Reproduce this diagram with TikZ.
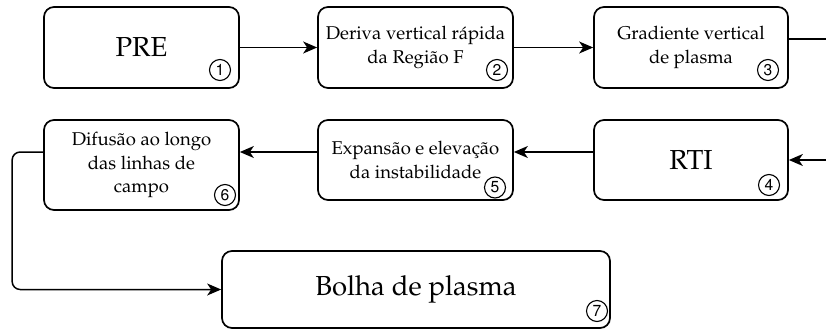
\documentclass[tikz,border=0pt]{standalone}
\usepackage[T1]{fontenc}
\usepackage[scaled=0.92]{helvet}
\usepackage{mathpazo}
\usetikzlibrary{arrows.meta}
\tikzset{
  stepbox/.style={draw, line width=1.7pt, rounded corners=10pt, inner sep=0pt, align=center},
  small/.style={font=\fontsize{18.5}{23.5}\selectfont},
  big/.style={font=\fontsize{27.5}{32}\selectfont},
  num/.style={circle, draw, line width=1.1pt, minimum size=21pt, inner sep=0pt, font=\sffamily\fontsize{17}{17}\selectfont},
  conn/.style={line width=1.5pt},
  arr/.style={conn, -{Stealth[length=14pt,width=12pt,inset=4pt]}}
}
\begin{document}
\begin{tikzpicture}[x=1pt,y=-1pt]
\useasboundingbox (0,0) rectangle (826,329);
% row 1
\node[stepbox, big, minimum width=195pt, minimum height=81pt] (b1) at (141.5,47.5) {PRE};
\node[stepbox, small, minimum width=195pt, minimum height=81pt] (b2) at (415.5,47.5) {Deriva vertical r\'apida\\da Regi\~ao F};
\node[stepbox, small, minimum width=194pt, minimum height=81pt] (b3) at (691,47.5) {Gradiente vertical\\de plasma};
% row 2
\node[stepbox, big, minimum width=194pt, minimum height=80pt] (b4) at (691,160) {RTI};
\node[stepbox, small, minimum width=195pt, minimum height=80pt] (b5) at (415.5,160) {Expans\~ao e eleva\c{c}\~ao\\da instabilidade};
\node[stepbox, small, minimum width=195pt, minimum height=90pt] (b6) at (141.5,165) {Difus\~ao ao longo\\das linhas de\\campo};
% row 3
\node[stepbox, big, minimum width=388pt, minimum height=77pt] (b7) at (416,289.5) {Bolha de plasma};
% numbers
\node[num] (n1) at (220,70) {1};
\node[num] (n2) at (497,70) {2};
\node[num] (n3) at (768,70) {3};
\node[num] (n4) at (769,185) {4};
\node[num] (n5) at (495,187.5) {5};
\node[num] (n6) at (225,195) {6};
\node[num] (n7) at (597,311) {7};
% connectors
\coordinate (o3) at (826,39);
\coordinate (i4) at (826,160);
\draw[arr] (b1.east) -- (b2.west);
\draw[arr] (b2.east) -- (b3.west);
\draw[conn] (b3.east |- o3) -- (o3);
\draw[arr] (i4) -- (b4.east);
\draw[arr] ([yshift=8pt]b4.west) -- ([yshift=8pt]b5.east);
\draw[arr] ([yshift=8pt]b5.west) -- ([yshift=13pt]b6.east);
\draw[arr, rounded corners=8pt] ([yshift=13pt]b6.west) -- ++(-31,0) |- (b7.west);
\end{tikzpicture}
\end{document}
